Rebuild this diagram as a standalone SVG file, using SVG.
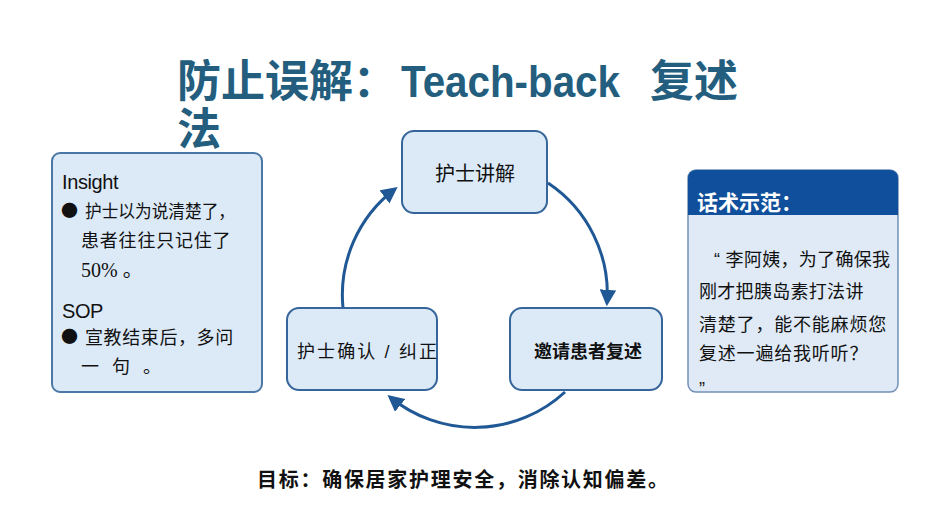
<svg xmlns="http://www.w3.org/2000/svg" width="950" height="531" viewBox="0 0 950 531">
<defs>
<style>
.title{font-family:"Liberation Sans","Noto Sans CJK SC",sans-serif;font-size:44px;font-weight:bold;fill:#245e7e;}
.box{fill:#dce9f7;stroke:#4b77a6;stroke-width:2;}
.node{fill:#dceaf8;stroke:#35659a;stroke-width:2;}
.t{font-family:"Liberation Sans","Noto Sans CJK SC",sans-serif;font-size:18px;fill:#111;}
.lat{font-family:"Liberation Sans",sans-serif;font-size:20px;letter-spacing:-0.4px;fill:#111;}
.dot{font-family:"Noto Sans CJK SC",sans-serif;font-size:17px;fill:#111;}
.conn{fill:none;stroke:#1f5895;stroke-width:3;}
</style>
<marker id="arr" viewBox="0 0 10 10" refX="8" refY="5" markerWidth="5.5" markerHeight="5.5" orient="auto" markerUnits="strokeWidth">
<path d="M0,0 L10,5 L0,10 Z" fill="#1f5895"/>
</marker>
</defs>
<rect width="950" height="531" fill="#ffffff"/>
<g id="title">
<text class="title" y="97"><tspan x="177">防止误解：</tspan><tspan x="401" textLength="219" lengthAdjust="spacingAndGlyphs">Teach-back</tspan><tspan x="650">复述</tspan></text>
<text class="title" x="177" y="145">法</text>
</g>
<g id="connectors">
<path class="conn" d="M548,183 A133,133 0 0 1 607,303" marker-end="url(#arr)"/>
<path class="conn" d="M565,392 A133,133 0 0 1 390,397" marker-end="url(#arr)"/>
<path class="conn" d="M343,308 A133,133 0 0 1 395,189" marker-end="url(#arr)"/>
</g>
<g id="insight-box">
<rect class="box" x="52" y="153" width="210" height="239" rx="8"/>
<text class="lat" x="62" y="189">Insight</text>
<text class="dot" x="61" y="217">●</text>
<text class="t" x="85" y="218" textLength="150" lengthAdjust="spacingAndGlyphs">护士以为说清楚了，</text>
<text class="t" x="81" y="247" letter-spacing="0.8">患者往往只记住了</text>
<text class="t" x="81" y="277" style="font-family:'Liberation Serif','Noto Sans CJK SC',serif;font-size:20px">50% 。</text>
<text class="lat" x="62" y="318">SOP</text>
<text class="dot" x="61" y="343">●</text>
<text class="t" x="85" y="344" letter-spacing="0.6">宣教结束后，多问</text>
<text class="t" x="81" y="373" letter-spacing="4">一 句 。</text>
</g>
<g id="node-explain">
<rect class="node" x="402" y="131" width="145" height="82" rx="12"/>
<text class="t" x="475" y="181" text-anchor="middle" style="font-size:20px">护士讲解</text>
</g>
<g id="node-teachback">
<rect class="node" x="510" y="308" width="152" height="82" rx="12"/>
<text class="t" x="588" y="358" text-anchor="middle" style="font-weight:bold">邀请患者复述</text>
</g>
<g id="node-confirm">
<rect class="node" x="287" y="308" width="150" height="82" rx="12"/>
<text class="t" x="297" y="358" textLength="140" lengthAdjust="spacing">护士确认 / 纠正</text>
</g>
<g id="script-panel">
<rect x="688" y="170" width="210" height="222" rx="8" fill="#dfeaf6" stroke="#7391b8" stroke-width="1.5"/>
<path d="M688,215 L688,178 A8,8 0 0 1 696,170 L890,170 A8,8 0 0 1 898,178 L898,215 Z" fill="#0f4f9b"/>
<text x="697" y="210" style="font-family:'Liberation Sans','Noto Sans CJK SC',sans-serif;font-size:21px;font-weight:bold;fill:#ffffff">话术示范：</text>
<text class="t" x="714" y="266" letter-spacing="0.3">“ 李阿姨，为了确保我</text>
<text class="t" x="699" y="298" letter-spacing="0.3">刚才把胰岛素打法讲</text>
<text class="t" x="699" y="331" letter-spacing="0.8">清楚了，能不能麻烦您</text>
<text class="t" x="699" y="360" letter-spacing="0.8">复述一遍给我听听？</text>
<text class="t" x="699" y="395">”</text>
</g>
<g id="goal">
<text x="257" y="487" style="font-family:'Liberation Sans','Noto Sans CJK SC',sans-serif;font-size:20px;font-weight:bold;fill:#111" textLength="411" lengthAdjust="spacing">目标：确保居家护理安全，消除认知偏差。</text>
</g>
</svg>
